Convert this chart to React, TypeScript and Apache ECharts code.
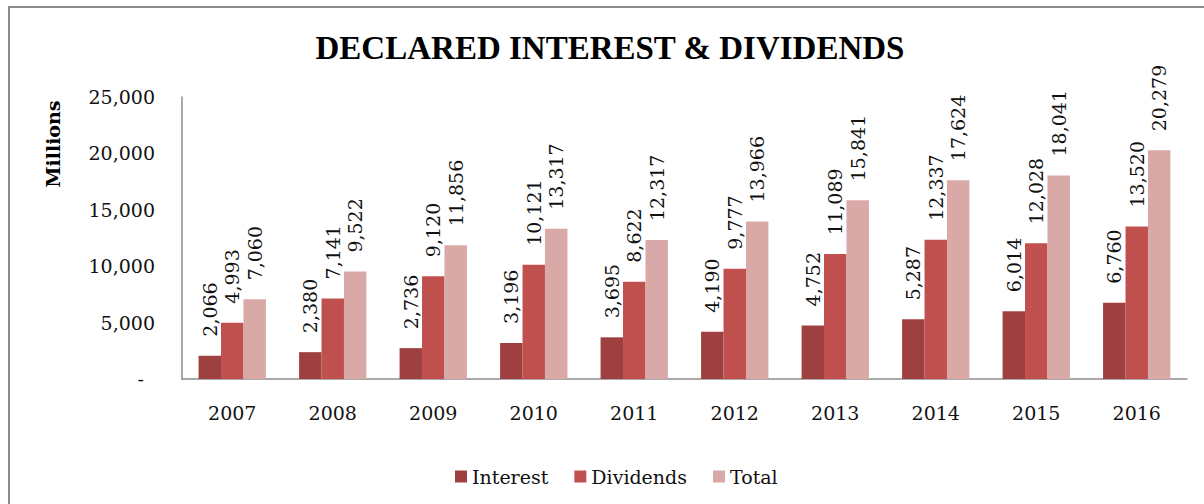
import React, { useEffect, useRef } from "react";
import * as echarts from "echarts";

const years = ["2007", "2008", "2009", "2010", "2011", "2012", "2013", "2014", "2015", "2016"];
const interest = [2066, 2380, 2736, 3196, 3695, 4190, 4752, 5287, 6014, 6760];
const dividends = [4993, 7141, 9120, 10121, 8622, 9777, 11089, 12337, 12028, 13520];
const total = [7060, 9522, 11856, 13317, 12317, 13966, 15841, 17624, 18041, 20279];
const seriesNames = ["Interest", "Dividends", "Total"];
const colors = ["#9E403F", "#C0504D", "#D9A9A8"];
const titleText = "DECLARED INTEREST & DIVIDENDS";
const yAxisTitle = "Millions";

const FONT = "'DejaVu Serif', serif";

function fmt(v: number): string {
  return v.toLocaleString("en-US");
}

export default function App() {
  const ref = useRef<HTMLDivElement>(null);
  useEffect(() => {
    if (!ref.current) return;
    const chart = echarts.init(ref.current, null, { renderer: "svg" });
    const dataSets = [interest, dividends, total];
    chart.setOption({
      animation: false,
      backgroundColor: "#ffffff",
      textStyle: { fontFamily: FONT },
      graphic: [
        {
          type: "rect",
          shape: { x: 9, y: 7, width: 1300, height: 700 },
          style: { fill: "none", stroke: "#8c8c8c", lineWidth: 2 },
          silent: true,
        },
        {
          type: "text",
          x: 610,
          y: 48,
          style: {
            text: titleText,
            fontFamily: "'Liberation Serif', serif",
            fontWeight: "bold",
            fontSize: 33,
            fill: "#000",
            textAlign: "center",
            textVerticalAlign: "middle",
          },
        },
        {
          type: "text",
          x: 53,
          y: 144,
          rotation: Math.PI / 2,
          style: {
            text: yAxisTitle,
            fontFamily: FONT,
            fontWeight: "bold",
            fontSize: 19,
            fill: "#000",
            textAlign: "center",
            textVerticalAlign: "middle",
          },
        },
      ],
      legend: {
        data: seriesNames,
        left: 450,
        top: 462,
        itemWidth: 12,
        itemHeight: 12,
        itemGap: 26,
        icon: "rect",
        textStyle: { fontFamily: FONT, fontSize: 19, color: "#111" },
      },
      grid: { left: 182, right: 17, top: 97, bottom: 125, containLabel: false },
      xAxis: {
        type: "category",
        data: years,
        axisLine: { lineStyle: { color: "#8c8c8c", width: 1.5 } },
        axisTick: { show: false },
        axisLabel: { fontFamily: FONT, fontSize: 19, color: "#111", margin: 24 },
      },
      yAxis: {
        type: "value",
        min: 0,
        max: 25000,
        interval: 5000,
        splitLine: { show: false },
        axisLine: { show: true, lineStyle: { color: "#8c8c8c", width: 1.5 } },
        axisTick: { show: false },
        axisLabel: {
          fontFamily: FONT,
          fontSize: 19,
          color: "#111",
          margin: 27,
          formatter: (v: number) => (v === 0 ? "{z|-}" : fmt(v)),
          rich: { z: { fontFamily: FONT, fontSize: 19, color: "#111", padding: [0, 11, 0, 0] } },
        },
      },
      series: seriesNames.map((name, i) => ({
        name,
        type: "bar",
        data: dataSets[i],
        barGap: "0%",
        barCategoryGap: "33%",
        itemStyle: { color: colors[i] },
        label: {
          show: true,
          position: "top",
          rotate: 90,
          align: "left",
          verticalAlign: "middle",
          distance: 19,
          fontFamily: FONT,
          fontSize: 19,
          color: "#111",
          formatter: (p: any) => fmt(p.value),
        },
      })),
    });
    return () => chart.dispose();
  }, []);
  return (
    <div
      ref={ref}
      style={{ position: "fixed", left: 0, top: 0, width: 1204, height: 504 }}
    />
  );
}
